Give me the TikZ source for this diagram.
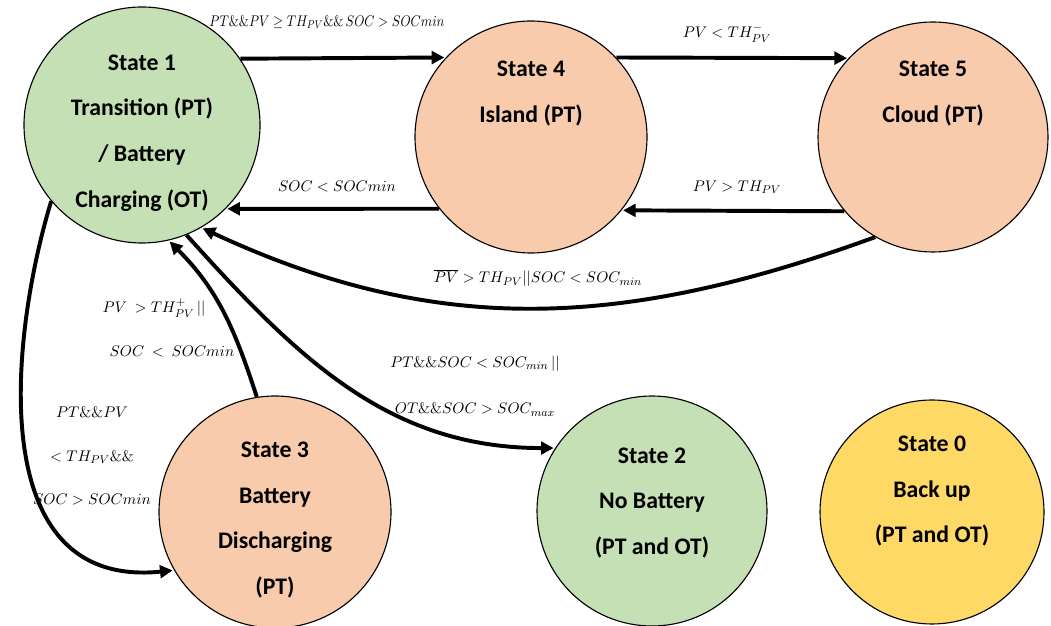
\documentclass[tikz,border=0pt]{standalone}
\usepackage{amsmath,amssymb}
\usepackage{graphicx}
\usepackage[no-math]{fontspec}
\setmainfont{Carlito}
\usepackage{tikz}
\usetikzlibrary{positioning, automata, arrows.meta}

\definecolor{stategreen}{HTML}{C5E0B4}
\definecolor{stateorange}{HTML}{F8CBAD}
\definecolor{stateyellow}{HTML}{FFD966}
\newcommand\statefont{\fontsize{16.9}{32.4}\selectfont\bfseries}
\newcommand\condfont{\fontsize{10.8}{33}\selectfont}

\begin{document}
\begin{tikzpicture}[shorten >=1pt,
        >={Triangle[length=9pt,width=9pt]},
        grid/.style={fill=stategreen},
        solar/.style={fill=stateorange},
        standby/.style={fill=stateyellow},
        cond/.style={font=\condfont,align=center,inner sep=0pt},
        every state/.style={draw=black,line width=0.8pt,text=black,minimum size=5.8cm,
                            inner sep=0pt,align=center,font=\statefont}]
        \useasboundingbox (0,0) rectangle (26.275,15.65);

        \node[state, grid, minimum size=5.9cm] (S1) at (3.55,12.525) {~\\[-10pt]State 1\\Transition (PT)\\/ Battery\\Charging (OT)};
        \node[state, solar] (S4) at (13.275,12.225) {State 4\\Island (PT)\\~\\~};
        \node[state, solar, minimum size=5.75cm] (S5) at (23.325,12.225) {State 5\\Cloud (PT)\\~\\~};
        \node[state, solar] (S3) at (6.875,2.85) {~\\[-10pt]State 3\\Battery\\Discharging\\(PT)};
        \node[state, grid, minimum size=5.75cm] (S2) at (16.3,2.875) {State 2\\No Battery\\(PT and OT)\\[-18pt]~};
        \node[state, standby, minimum size=5.6cm] (S0) at (23.3,2.85) {State 0\\Back up\\(PT and OT)\\~};

        \node[cond] (c14) at (8.175,15.1) {\scalebox{0.84}[1]{$PT\&\&PV \geq TH_{PV}\&\&\,SOC > SOCmin$}};
        \node[cond] (c45) at (18.175,14.825) {$PV < TH^{-}_{PV}$};
        \node[cond] (c41) at (8.425,10.975) {$SOC < SOCmin$};
        \node[cond] (c54) at (18.425,10.975) {$PV > TH_{PV}$};
        \node[cond] (c51) at (13.45,8.7) {$\overline{PV} > TH_{PV}||SOC < SOC_{min}$};
        \node[cond] (c31a) at (3.85,7.95) {$PV\ > TH^{+}_{PV}\,||$};
        \node[cond] (c31b) at (4.3,6.85) {$SOC\ <\ SOCmin$};
        \node[cond] (c12) at (11.875,6.0) {$PT\&\&SOC < SOC_{min}\,||$\\$OT\&\&SOC > SOC_{max}$};
        \node[cond] (c13) at (2.3,4.25) {$PT\&\&PV$\\[-2pt]$<TH_{PV}\&\&$\\[-2pt]$SOC > SOCmin$};

        \path[->, line width=2.8pt]
                  (S1.34)  edge [] node []{} (S4.137)
                  (S4.43)  edge [] node []{} (S5.137)
                  (S5.220) edge [] node []{} (S4.-39)
                  (S4.218) edge [] node []{} (S1.-45)
                  (S5.240) edge [out=200, in=-25] node []{} (S1.-60)
                  (S3.99)  edge [out=108, in=-45] node []{} (S1.-77)
                  (S1.-68) edge [out=-48, in=180] node []{} (S2.147);
        \draw[->, line width=2.8pt] (S1.220) .. controls (0.3,7.4) and (-0.5,0.9) .. (S3.210);
    \end{tikzpicture}
\end{document}
